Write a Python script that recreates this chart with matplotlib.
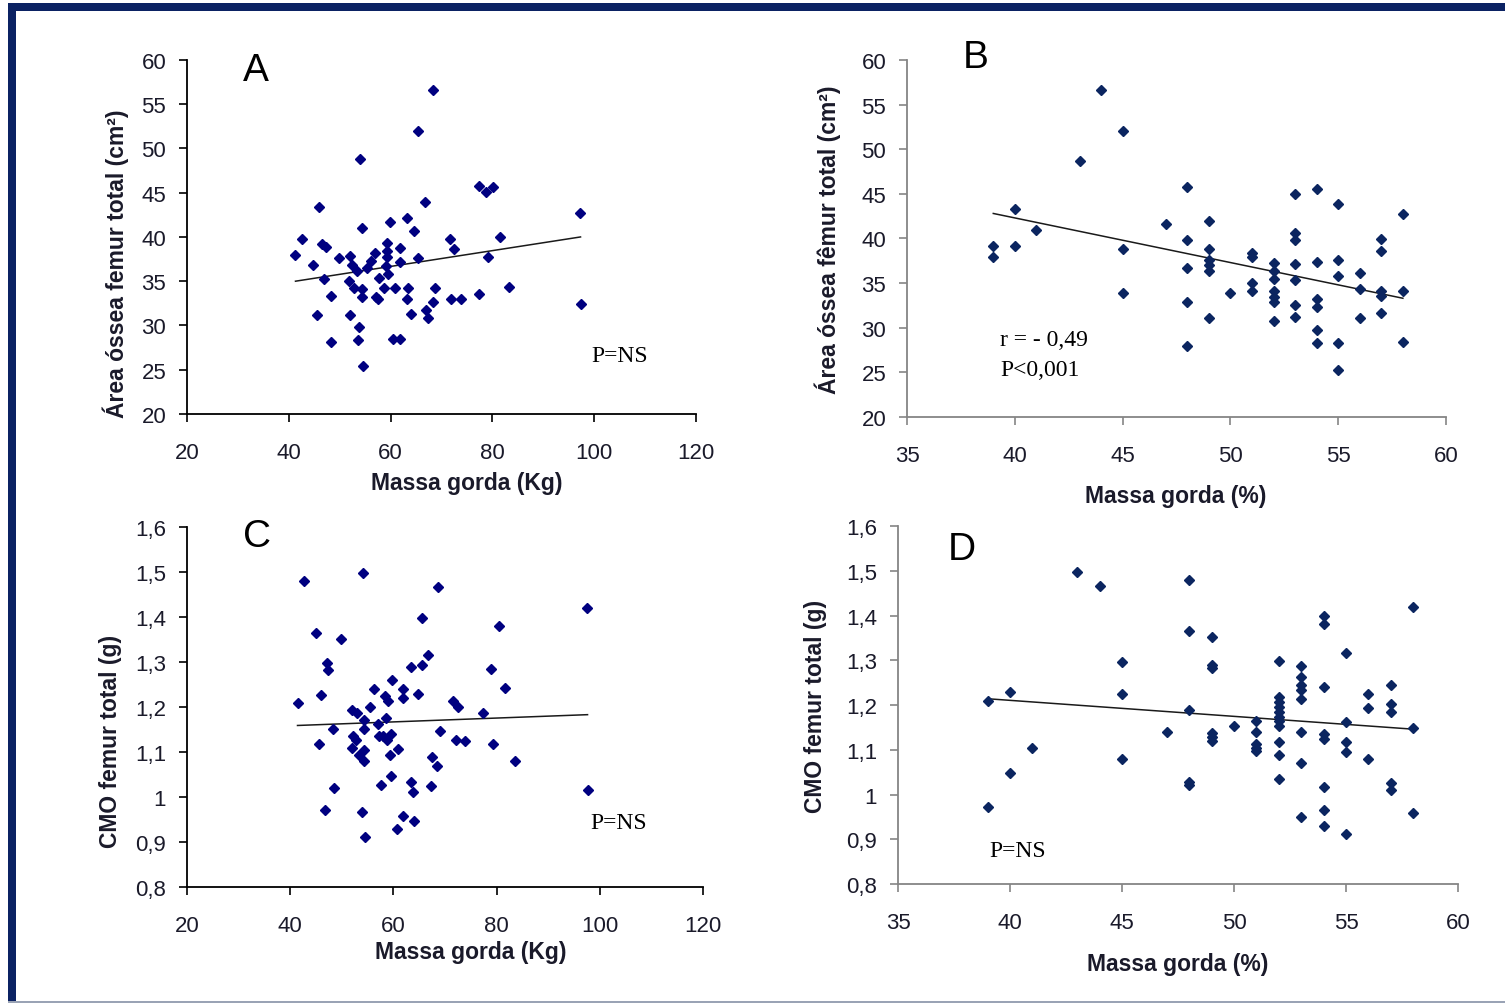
import matplotlib.pyplot as plt
from matplotlib.patches import Rectangle

plt.rcParams['font.family'] = ['Liberation Sans', 'DejaVu Sans']

# Panel A: fat mass (kg) vs total femur bone area (cm2)
a_x = [41.3, 42.5, 44.8, 45.9, 45.5, 46.6, 47.2, 46.9, 48.3, 48.3, 49.8, 52.1, 52.5, 51.9,
       52.1, 52.8, 53.3, 53.7, 53.5, 54.0, 54.3, 54.3, 54.3, 54.5, 55.4, 56.2, 56.9, 57.2,
       57.5, 57.7, 58.6, 59.2, 59.2, 59.2, 59.0, 59.5, 59.8, 60.8, 60.5, 61.8, 61.8, 61.8,
       63.2, 64.6, 63.5, 63.2, 63.9, 65.4, 65.4, 66.7, 67.0, 67.3, 68.3, 68.4, 68.8, 71.7,
       72.4, 71.9, 73.9, 77.3, 78.7, 80.2, 77.4, 79.1, 81.4, 83.3, 97.2, 97.3]
a_y = [38.0, 39.8, 36.8, 43.4, 31.2, 39.2, 38.9, 35.3, 33.3, 28.1, 37.6, 37.8, 36.8, 35.0,
       31.2, 34.2, 36.1, 29.8, 28.3, 48.8, 41.0, 34.1, 33.2, 25.4, 36.5, 37.3, 38.2, 33.2,
       33.0, 35.4, 34.2, 39.3, 38.4, 37.7, 36.7, 35.8, 41.7, 34.2, 28.5, 28.5, 38.8, 37.2,
       42.1, 40.7, 34.2, 33.0, 31.3, 52.0, 37.6, 43.9, 31.7, 30.8, 32.6, 56.6, 34.2, 39.8,
       38.6, 33.0, 33.0, 45.8, 45.1, 45.6, 33.6, 37.7, 40.0, 34.4, 42.7, 32.4]
a_trend = ([41.3, 97.3], [35.0, 40.0])

# Panel B: fat mass (%) vs total femur bone area (cm2)
b_x = [39, 39, 40, 40, 41, 43, 44, 45, 45, 45, 47, 48, 48, 48, 48, 48,
       49, 49, 49, 49, 49, 49, 50, 51, 51, 51, 51,
       52, 52, 52, 52, 52, 52, 52, 53, 53, 53, 53, 53, 53, 53,
       54, 54, 54, 54, 54, 54, 55, 55, 55, 55, 55, 56, 56, 56,
       57, 57, 57, 57, 57, 58, 58, 58]
b_y = [39.1, 37.9, 43.3, 39.2, 40.9, 48.7, 56.6, 52.0, 38.8, 33.9, 41.6, 45.8, 39.8, 36.7, 32.9, 28.0,
       42.0, 38.8, 37.6, 36.4, 37.0, 31.1, 33.9, 38.4, 37.9, 35.0, 34.1,
       37.2, 36.4, 35.5, 34.1, 33.4, 32.9, 30.8, 45.0, 40.6, 39.8, 37.1, 35.4, 32.5, 31.2,
       45.5, 37.4, 33.2, 32.3, 29.7, 28.3, 43.9, 37.6, 35.8, 28.3, 25.3, 36.1, 34.3, 31.1,
       39.9, 38.6, 34.1, 33.6, 31.6, 42.7, 34.1, 28.4]
b_trend = ([39.0, 58.0], [42.8, 33.3])

# Panel C: fat mass (kg) vs total femur BMC (g)
c_x = [41.4, 42.6, 45.0, 49.9, 46.0, 47.1, 47.3, 45.5, 48.3, 48.4, 46.8, 52.0, 52.9, 52.2,
       52.7, 51.9, 53.4, 54.2, 54.2, 54.1, 54.2, 54.3, 53.8, 54.5, 55.5, 56.3, 57.0, 57.2,
       57.6, 58.3, 58.9, 58.6, 58.0, 58.8, 59.6, 59.7, 59.3, 59.5, 60.7, 60.9, 61.8, 61.9,
       61.9, 63.3, 63.4, 63.8, 63.9, 64.7, 65.5, 65.6, 66.7, 67.2, 67.4, 68.5, 68.6, 69.0,
       71.6, 72.5, 72.1, 73.9, 77.4, 78.9, 79.3, 80.4, 81.6, 83.6, 97.5, 97.6]
c_y = [1.209, 1.480, 1.365, 1.352, 1.226, 1.298, 1.282, 1.118, 1.152, 1.021, 0.971, 1.193,
       1.187, 1.136, 1.127, 1.110, 1.094, 1.104, 1.079, 1.497, 1.172, 1.151, 0.966, 0.912,
       1.200, 1.239, 1.163, 1.135, 1.027, 1.224, 1.213, 1.176, 1.136, 1.127, 1.139, 1.260,
       1.094, 1.047, 0.928, 1.107, 1.240, 1.220, 0.958, 1.289, 1.033, 1.011, 0.947, 1.228,
       1.293, 1.397, 1.315, 1.025, 1.088, 1.070, 1.466, 1.146, 1.214, 1.200, 1.126, 1.124,
       1.187, 1.285, 1.118, 1.380, 1.243, 1.081, 1.419, 1.016]
c_trend = ([41.4, 97.6], [1.159, 1.183])

# Panel D: fat mass (%) vs total femur BMC (g)
d_x = [39, 39, 40, 40, 41, 43, 44, 45, 45, 45, 47, 48, 48, 48, 48, 48,
       49, 49, 49, 49, 49, 49, 50, 51, 51, 51, 51, 51,
       52, 52, 52, 52, 52, 52, 52, 52, 52, 52, 52,
       53, 53, 53, 53, 53, 53, 53, 53,
       54, 54, 54, 54, 54, 54, 54, 54,
       55, 55, 55, 55, 55, 56, 56, 56, 57, 57, 57, 57, 57, 58, 58, 58]
d_y = [1.210, 0.972, 1.229, 1.049, 1.103, 1.497, 1.465, 1.295, 1.224, 1.080, 1.140,
       1.480, 1.366, 1.189, 1.029, 1.021,
       1.352, 1.289, 1.283, 1.137, 1.128, 1.120, 1.152, 1.164, 1.139, 1.113, 1.105, 1.098,
       1.298, 1.218, 1.206, 1.195, 1.184, 1.174, 1.165, 1.152, 1.118, 1.088, 1.034,
       1.287, 1.263, 1.244, 1.233, 1.214, 1.139, 1.071, 0.949,
       1.399, 1.380, 1.240, 1.135, 1.124, 1.017, 0.966, 0.930,
       1.317, 1.161, 1.118, 1.095, 0.912, 1.225, 1.193, 1.080,
       1.244, 1.203, 1.184, 1.026, 1.011, 1.420, 1.148, 0.959]
d_trend = ([39.0, 58.0], [1.214, 1.146])

kg_ticks = [20, 40, 60, 80, 100, 120]
pct_ticks = [35, 40, 45, 50, 55, 60]
area_ticks = [20, 25, 30, 35, 40, 45, 50, 55, 60]
cmo_ticks = [0.8, 0.9, 1.0, 1.1, 1.2, 1.3, 1.4, 1.5, 1.6]
cmo_labels = ['0,8', '0,9', '1', '1,1', '1,2', '1,3', '1,4', '1,5', '1,6']

fig = plt.figure(figsize=(15.05, 10.04), dpi=100)

# frame around the figure
navy = '#0b2263'
fig.add_artist(Rectangle((8 / 1505, 0), 8 / 1505, 1 - 4 / 1004, transform=fig.transFigure,
                         color=navy, lw=0))
fig.add_artist(Rectangle((8 / 1505, 1 - 12 / 1004), 1, 8 / 1004, transform=fig.transFigure,
                         color=navy, lw=0))
fig.add_artist(Rectangle((8 / 1505, 0), 1, 2 / 1004, transform=fig.transFigure,
                         color='#9aa3b5', lw=0))


def panel(rect, x, y, trend, xt, yt, ylabels, spine_col, dot_col, xlabel, ylabel,
          ylab_pos, xlab_pos, letter, letter_pos):
    ax = fig.add_axes(rect)
    ax.plot(x, y, 'D', ms=5.4, color=dot_col, mec=dot_col, zorder=3)
    ax.plot(trend[0], trend[1], color='#1a1a1a', lw=1.1, zorder=2)
    ax.set_xlim(xt[0], xt[-1])
    ax.set_ylim(yt[0], yt[-1])
    ax.set_xticks(xt)
    ax.set_yticks(yt)
    ax.set_yticklabels(ylabels)
    for s in ['top', 'right']:
        ax.spines[s].set_visible(False)
    for s in ['left', 'bottom']:
        ax.spines[s].set_color(spine_col)
        ax.spines[s].set_linewidth(1.3)
    ax.tick_params(axis='both', direction='out', length=6, width=1.2, color=spine_col,
                   labelsize=16, labelcolor='#1a1a2a')
    ax.tick_params(axis='x', pad=14)
    ax.tick_params(axis='y', pad=9)
    ax.set_xlabel(xlabel, fontsize=16.5, fontweight='bold', color='#1a1a2a')
    ax.set_ylabel(ylabel, fontsize=16.5, fontweight='bold', color='#1a1a2a')
    ax.xaxis.set_label_coords(*xlab_pos)
    ax.yaxis.set_label_coords(*ylab_pos)
    ax.xaxis.label.set_va('center')
    ax.yaxis.label.set_va('center')
    ax.text(letter_pos[0], letter_pos[1], letter, transform=ax.transAxes, fontsize=28,
            ha='center', va='center', color='black')
    return ax


serif = ['Liberation Serif', 'DejaVu Serif']

ax = panel([0.1243, 0.5867, 0.3382, 0.3526], a_x, a_y, a_trend, kg_ticks, area_ticks,
           [str(v) for v in area_ticks], 'black', '#000080', 'Massa gorda (Kg)',
           'Área óssea femur total (cm²)', (-0.141, 0.427), (0.55, -0.195), 'A', (0.136, 0.972))
ax.text(0.849, 0.164, 'P=NS', transform=ax.transAxes, fontsize=17, family=serif,
        ha='center', va='center')

ax = panel([0.6027, 0.5837, 0.3581, 0.3556], b_x, b_y, b_trend, pct_ticks, area_ticks,
           [str(v) for v in area_ticks], '#858585', '#0b2560', 'Massa gorda (%)',
           'Área óssea fêmur total (cm²)', (-0.147, 0.5), (0.499, -0.221), 'B', (0.128, 1.008))
ax.text(0.173, 0.218, 'r = - 0,49', transform=ax.transAxes, fontsize=17, family=serif,
        ha='left', va='center')
ax.text(0.173, 0.134, 'P<0,001', transform=ax.transAxes, fontsize=17, family=serif,
        ha='left', va='center')

ax = panel([0.1243, 0.1155, 0.3429, 0.3586], c_x, c_y, c_trend, kg_ticks, cmo_ticks,
           cmo_labels, 'black', '#000080', 'Massa gorda (Kg)',
           'CMO femur total (g)', (-0.149, 0.408), (0.55, -0.178), 'C', (0.136, 0.975))
ax.text(0.837, 0.178, 'P=NS', transform=ax.transAxes, fontsize=17, family=serif,
        ha='center', va='center')

ax = panel([0.5967, 0.1185, 0.3721, 0.3566], d_x, d_y, d_trend, pct_ticks, cmo_ticks,
           cmo_labels, '#858585', '#0b2560', 'Massa gorda (%)',
           'CMO femur total (g)', (-0.148, 0.5), (0.5, -0.223), 'D', (0.114, 0.936))
ax.text(0.214, 0.095, 'P=NS', transform=ax.transAxes, fontsize=17, family=serif,
        ha='center', va='center')

fig.savefig('out.png', dpi=100)
